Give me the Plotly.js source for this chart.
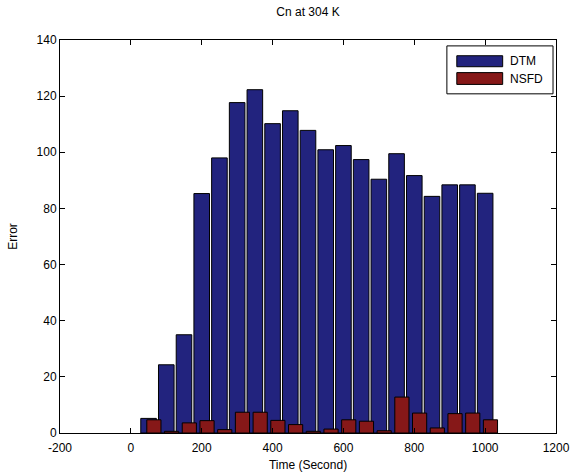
<!DOCTYPE html>
<html>
<head>
<meta charset="utf-8">
<script src="https://cdn.plot.ly/plotly-3.0.1.min.js"></script>
<style>
  html, body { margin: 0; padding: 0; background: #fff; }
  #chart { width: 577px; height: 474px; }
</style>
</head>
<body>
<div id="chart"></div>
<script>
// Sampling times (s)
const time = [50, 100, 150, 200, 250, 300, 350, 400, 450, 500,
              550, 600, 650, 700, 750, 800, 850, 900, 950, 1000];

// Error of the DTM scheme at each time
const dtmError = [5.2, 24.3, 35.0, 85.3, 98.0, 117.7, 122.3, 110.2, 114.8, 107.8,
                  100.9, 102.4, 97.4, 90.4, 99.5, 91.7, 84.3, 88.4, 88.4, 85.4];

// Error of the NSFD scheme at each time
const nsfdError = [4.7, 0.6, 3.6, 4.4, 1.2, 7.4, 7.4, 4.5, 3.0, 0.6,
                   1.4, 4.7, 4.2, 0.8, 12.8, 7.1, 1.8, 6.9, 7.1, 4.7];

const xTicks = [-200, 0, 200, 400, 600, 800, 1000, 1200];
const yTicks = [0, 20, 40, 60, 80, 100, 120, 140];

const seriesNames = ['DTM', 'NSFD'];
const blue = '#22237e';
const red = '#861818';

const font = { family: 'Liberation Sans, Arial, sans-serif', size: 12, color: '#000' };

const traces = [
  {
    type: 'bar', name: seriesNames[0], x: time, y: dtmError,
    width: 44,
    marker: { color: blue, line: { color: '#000', width: 1 } },
    showlegend: false, hoverinfo: 'x+y'
  },
  {
    type: 'bar', name: seriesNames[1], x: time, y: nsfdError,
    width: 40, offset: -5,
    marker: { color: red, line: { color: '#000', width: 1 } },
    showlegend: false, hoverinfo: 'x+y'
  }
];

const axisCommon = {
  showline: true, linecolor: '#000', linewidth: 1, mirror: 'ticks',
  ticks: 'inside', ticklen: 5, tickcolor: '#000', tickwidth: 1,
  showgrid: false, zeroline: false, tickfont: font
};

// Boxed legend in the upper-right corner with long swatches
const legendShapes = [
  { type: 'rect', xref: 'paper', yref: 'paper', x0: 0.780, x1: 0.994, y0: 0.863, y1: 0.985,
    line: { color: '#000', width: 1 }, fillcolor: '#fff' },
  { type: 'rect', xref: 'paper', yref: 'paper', x0: 0.800, x1: 0.8925, y0: 0.932, y1: 0.960,
    line: { color: '#000', width: 1 }, fillcolor: blue },
  { type: 'rect', xref: 'paper', yref: 'paper', x0: 0.800, x1: 0.8925, y0: 0.887, y1: 0.917,
    line: { color: '#000', width: 1 }, fillcolor: red }
];
const legendLabels = [
  { xref: 'paper', yref: 'paper', x: 0.903, y: 0.946, text: seriesNames[0], showarrow: false,
    xanchor: 'left', yanchor: 'middle', font: font },
  { xref: 'paper', yref: 'paper', x: 0.903, y: 0.902, text: seriesNames[1], showarrow: false,
    xanchor: 'left', yanchor: 'middle', font: font }
];

const layout = {
  width: 577, height: 474,
  margin: { l: 60, r: 21, t: 40, b: 41 },
  paper_bgcolor: '#fff', plot_bgcolor: '#fff',
  barmode: 'overlay',
  font: font,
  title: { text: 'Cn at 304 K', font: font, x: 0.5, xref: 'paper', y: 0.975, yanchor: 'middle' },
  xaxis: Object.assign({}, axisCommon, {
    range: [-200, 1200], tickvals: xTicks, ticktext: xTicks.map(String),
    ticklabelstandoff: 4,
    title: { text: 'Time (Second)', font: font, standoff: 6 }
  }),
  yaxis: Object.assign({}, axisCommon, {
    range: [0, 140], tickvals: yTicks, ticktext: yTicks.map(String),
    title: { text: 'Error', font: font, standoff: 16 }
  }),
  shapes: legendShapes,
  annotations: legendLabels
};

Plotly.newPlot('chart', traces, layout, { displayModeBar: false, staticPlot: true });
</script>
</body>
</html>
